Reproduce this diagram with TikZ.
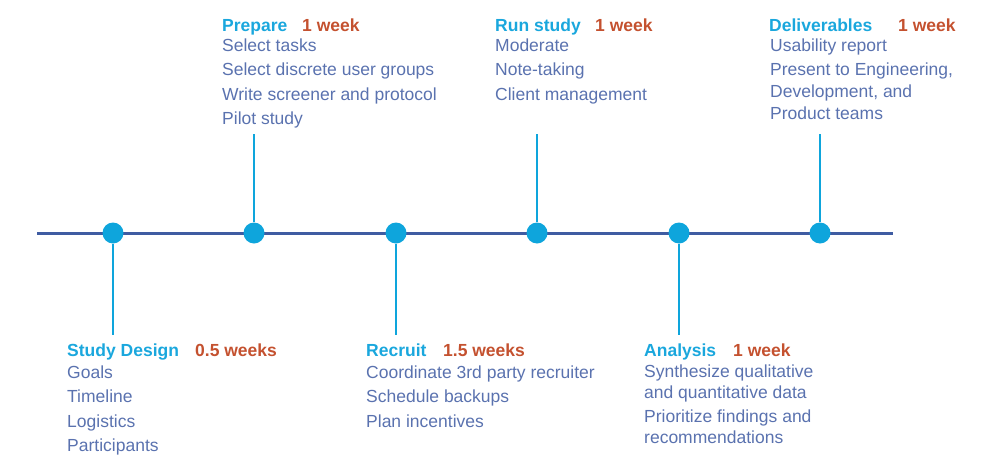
\documentclass[tikz,border=0pt]{standalone}
\usepackage{fontspec}
\setmainfont{Liberation Sans}
\definecolor{axisblue}{HTML}{3F5CA2}
\definecolor{dotblue}{HTML}{0EA5DC}
\definecolor{titleblue}{HTML}{1AA7DD}
\definecolor{durred}{HTML}{C4512F}
\definecolor{itemblue}{HTML}{5A72AF}
\tikzset{
	axisline/.style={draw=axisblue,line width=3pt},
	stem/.style={draw=dotblue,line width=2.6pt},
	dot/.style={circle,fill=dotblue,minimum size=21pt,inner sep=0pt},
	phase/.style={anchor=base west,inner sep=0pt,text=titleblue,
		font=\fontsize{17.5}{21}\selectfont\bfseries},
	dur/.style={anchor=base west,inner sep=0pt,text=durred,
		font=\fontsize{17.5}{21}\selectfont\bfseries},
	item/.style={anchor=base west,inner sep=0pt,text=itemblue,
		font=\fontsize{17.5}{21}\selectfont}
}
\begin{document}
\begin{tikzpicture}[x=1pt,y=-1pt]
	\useasboundingbox (0,0) rectangle (1000,471);
	% time axis
	\coordinate (axl) at (37,233);
	\coordinate (axr) at (893,233);
	\draw[axisline] (axl) -- (axr);
	% milestones: number / x / end of stem
	\foreach \n/\x/\e in {1/113/335,2/254/134,3/396/335,4/537/134,5/679/335,6/820/134}{
		\coordinate (s\n) at (\x,\e);
		\node[dot] (d\n) at (\x,233) {};
		\draw[stem] (d\n) -- (s\n);
	}
	% study design
	\node[phase] (t1) at (67,356) {Study Design};
	\node[dur] (w1) at (195,356) {0.5 weeks};
	\foreach \t [count=\i from 0] in {Goals,Timeline,Logistics,Participants}
		\node[item] (i1-\i) at (67,378+24.5*\i) {\t};
	% prepare
	\node[phase] (t2) at (222,31) {Prepare};
	\node[dur] (w2) at (302,31) {1 week};
	\foreach \t [count=\i from 0] in {Select tasks,Select discrete user groups,
		Write screener and protocol,Pilot study}
		\node[item] (i2-\i) at (222,51+24.5*\i) {\t};
	% recruit
	\node[phase] (t3) at (366,356) {Recruit};
	\node[dur] (w3) at (443,356) {1.5 weeks};
	\foreach \t [count=\i from 0] in {Coordinate 3rd party recruiter,Schedule backups,
		Plan incentives}
		\node[item] (i3-\i) at (366,378+24.5*\i) {\t};
	% run study
	\node[phase] (t4) at (495,31) {Run study};
	\node[dur] (w4) at (595,31) {1 week};
	\foreach \t [count=\i from 0] in {Moderate,Note-taking,Client management}
		\node[item] (i4-\i) at (495,51+24.5*\i) {\t};
	% analysis
	\node[phase] (t5) at (644,356) {Analysis};
	\node[dur] (w5) at (733,356) {1 week};
	\node[item] (i5-0) at (644,377) {Synthesize qualitative};
	\node[item] (i5-1) at (644,398) {and quantitative data};
	\node[item] (i5-2) at (644,422) {Prioritize findings and};
	\node[item] (i5-3) at (644,443) {recommendations};
	% deliverables
	\node[phase] (t6) at (769,31) {Deliverables};
	\node[dur] (w6) at (898,31) {1 week};
	\node[item] (i6-0) at (770,51) {Usability report};
	\node[item] (i6-1) at (770,75) {Present to Engineering,};
	\node[item] (i6-2) at (770,97) {Development, and};
	\node[item] (i6-3) at (770,119) {Product teams};
\end{tikzpicture}
\end{document}
